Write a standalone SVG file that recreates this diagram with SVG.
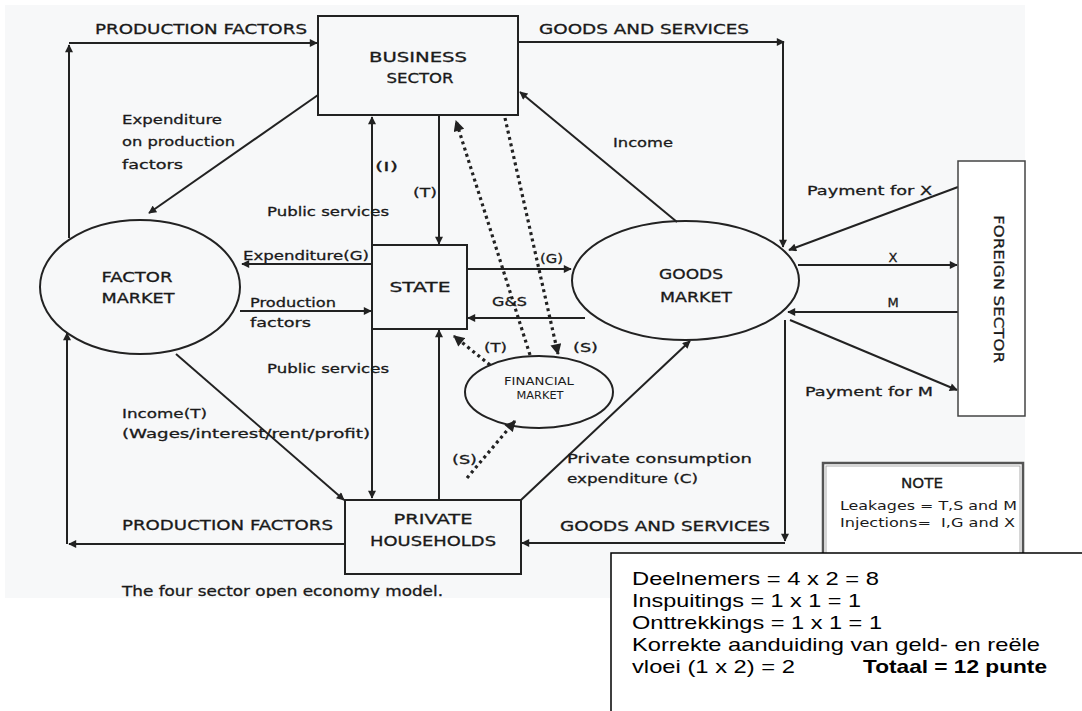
<svg xmlns="http://www.w3.org/2000/svg" width="1082" height="711" viewBox="0 0 1082 711">
<style>
.t{font-family:"DejaVu Sans","Liberation Sans",sans-serif;font-size:13px;fill:#1a1a1a;stroke:#1a1a1a;stroke-width:0.3}
.n{font-family:"DejaVu Sans","Liberation Sans",sans-serif;font-size:14px;fill:#1a1a1a;stroke:#1a1a1a;stroke-width:0.3}
.cap{font-family:"DejaVu Sans","Liberation Sans",sans-serif;font-size:14px;fill:#1a1a1a;stroke:#1a1a1a;stroke-width:0.3}
.sm{font-family:"DejaVu Sans","Liberation Sans",sans-serif;font-size:10px;fill:#1a1a1a}
.nt{font-family:"DejaVu Sans","Liberation Sans",sans-serif;font-size:11.5px;fill:#1a1a1a;white-space:pre}
.box{fill:none;stroke:#222;stroke-width:2}
.c{fill:none;stroke:#222;stroke-width:2;marker-end:url(#a)}
.d{fill:none;stroke:#222;stroke-width:3.2;stroke-dasharray:3 3.5;marker-end:url(#ad)}
.ans{font-family:"Liberation Sans",Arial,sans-serif;font-size:18.5px;fill:#000}
</style>
<defs>
<marker id="a" viewBox="0 0 10 10" refX="9" refY="5" markerWidth="9" markerHeight="8" markerUnits="userSpaceOnUse" orient="auto"><path d="M0,0 L10,5 L0,10 z" fill="#222"/></marker>
<marker id="ad" viewBox="0 0 10 10" refX="9" refY="5" markerWidth="12" markerHeight="11" markerUnits="userSpaceOnUse" orient="auto"><path d="M0,0 L10,5 L0,10 z" fill="#222"/></marker>
<clipPath id="scan"><rect x="0" y="0" width="1082" height="598"/></clipPath>
</defs>
<rect x="0" y="0" width="1082" height="711" fill="#ffffff"/>
<rect x="5" y="5" width="1020" height="593" fill="#f7f8f9"/>

<g id="connectors">
<line class="c" x1="69" y1="238" x2="69" y2="45"/>
<line class="c" x1="69" y1="43" x2="317" y2="43"/>
<line class="c" x1="345" y1="544" x2="69" y2="544"/>
<line class="c" x1="67" y1="544" x2="67" y2="333"/>
<line class="c" x1="518" y1="42" x2="784" y2="42"/>
<line class="c" x1="783" y1="42" x2="783" y2="247"/>
<line class="c" x1="785" y1="320" x2="785" y2="541"/>
<line class="c" x1="785" y1="543" x2="522" y2="543"/>
<line class="c" x1="318" y1="95" x2="149" y2="213"/>
<line class="c" x1="372" y1="245" x2="372" y2="117"/>
<line class="c" x1="439" y1="115" x2="439" y2="244"/>
<line class="c" x1="372" y1="329" x2="372" y2="498"/>
<line class="c" x1="439" y1="500" x2="439" y2="330"/>
<line class="c" x1="372" y1="264" x2="242" y2="264"/>
<line class="c" x1="240" y1="311" x2="371" y2="311"/>
<line class="c" x1="176" y1="354" x2="344" y2="500"/>
<line class="c" x1="467" y1="269" x2="571" y2="269"/>
<line class="c" x1="585" y1="318" x2="468" y2="318"/>
<line class="c" x1="677" y1="222" x2="520" y2="92"/>
<line class="c" x1="521" y1="500" x2="690" y2="341"/>
<line class="c" x1="958" y1="187" x2="789" y2="250"/>
<line class="c" x1="798" y1="265" x2="957" y2="265"/>
<line class="c" x1="958" y1="312" x2="788" y2="312"/>
<line class="c" x1="790" y1="320" x2="957" y2="390"/>
<line class="d" x1="530" y1="355" x2="456" y2="121"/>
<line class="d" x1="505" y1="118" x2="558" y2="354"/>
<line class="d" x1="490" y1="365" x2="454" y2="336"/>
<line class="d" x1="467" y1="478" x2="515" y2="421"/>
</g>

<g id="labels">
<text class="cap" x="95" y="34" textLength="212" lengthAdjust="spacingAndGlyphs">PRODUCTION FACTORS</text>
<text class="cap" x="539" y="34" textLength="210" lengthAdjust="spacingAndGlyphs">GOODS AND SERVICES</text>
<text class="cap" x="122" y="530" textLength="211" lengthAdjust="spacingAndGlyphs">PRODUCTION FACTORS</text>
<text class="cap" x="560" y="531" textLength="210" lengthAdjust="spacingAndGlyphs">GOODS AND SERVICES</text>
<text class="t" x="122" y="124" textLength="100" lengthAdjust="spacingAndGlyphs">Expenditure</text>
<text class="t" x="122" y="146" textLength="113" lengthAdjust="spacingAndGlyphs">on production</text>
<text class="t" x="122" y="169" textLength="61" lengthAdjust="spacingAndGlyphs">factors</text>
<text class="t" x="375" y="171" textLength="23" lengthAdjust="spacingAndGlyphs">(I)</text>
<text class="t" x="413" y="197" textLength="24" lengthAdjust="spacingAndGlyphs">(T)</text>
<text class="t" x="267" y="216" textLength="122" lengthAdjust="spacingAndGlyphs">Public services</text>
<text class="t" x="267" y="373" textLength="122" lengthAdjust="spacingAndGlyphs">Public services</text>
<text class="t" x="243" y="260" textLength="126" lengthAdjust="spacingAndGlyphs">Expenditure(G)</text>
<text class="t" x="250" y="307" textLength="86" lengthAdjust="spacingAndGlyphs">Production</text>
<text class="t" x="250" y="327" textLength="61" lengthAdjust="spacingAndGlyphs">factors</text>
<text class="t" x="540" y="263" textLength="23" lengthAdjust="spacingAndGlyphs">(G)</text>
<text class="t" x="492" y="306" textLength="35" lengthAdjust="spacingAndGlyphs">G&amp;S</text>
<text class="t" x="484" y="352" textLength="23" lengthAdjust="spacingAndGlyphs">(T)</text>
<text class="t" x="573" y="352" textLength="25" lengthAdjust="spacingAndGlyphs">(S)</text>
<text class="t" x="452" y="464" textLength="25" lengthAdjust="spacingAndGlyphs">(S)</text>
<text class="t" x="613" y="147" textLength="60" lengthAdjust="spacingAndGlyphs">Income</text>
<text class="t" x="807" y="195" textLength="125" lengthAdjust="spacingAndGlyphs">Payment for X</text>
<text class="t" x="893" y="262" text-anchor="middle">X</text>
<text class="t" x="893" y="307" text-anchor="middle">M</text>
<text class="t" x="805" y="396" textLength="128" lengthAdjust="spacingAndGlyphs">Payment for M</text>
<text class="t" x="122" y="418" textLength="85" lengthAdjust="spacingAndGlyphs">Income(T)</text>
<text class="t" x="122" y="438" textLength="248" lengthAdjust="spacingAndGlyphs">(Wages/interest/rent/profit)</text>
<text class="t" x="567" y="463" textLength="185" lengthAdjust="spacingAndGlyphs">Private consumption</text>
<text class="t" x="567" y="483" textLength="131" lengthAdjust="spacingAndGlyphs">expenditure (C)</text>
<text class="cap" x="122" y="596" textLength="321" lengthAdjust="spacingAndGlyphs" clip-path="url(#scan)">The four sector open economy model.</text>
</g>

<g id="business-sector">
<rect class="box" x="318" y="16" width="200" height="99" fill="#f7f8f9"/>
<text class="n" x="418" y="62" text-anchor="middle" textLength="98" lengthAdjust="spacingAndGlyphs">BUSINESS</text>
<text class="n" x="420" y="83" text-anchor="middle" textLength="67" lengthAdjust="spacingAndGlyphs">SECTOR</text>
</g>

<g id="factor-market">
<ellipse class="box" cx="140" cy="287" rx="100" ry="67"/>
<text class="n" x="137" y="282" text-anchor="middle" textLength="71" lengthAdjust="spacingAndGlyphs">FACTOR</text>
<text class="n" x="138" y="303" text-anchor="middle" textLength="73" lengthAdjust="spacingAndGlyphs">MARKET</text>
</g>

<g id="state">
<rect class="box" x="372" y="245" width="95" height="84"/>
<text class="n" x="420" y="292" text-anchor="middle" textLength="61" lengthAdjust="spacingAndGlyphs">STATE</text>
</g>

<g id="goods-market">
<ellipse class="box" cx="685.5" cy="280.5" rx="113.5" ry="59.5"/>
<text class="n" x="691" y="279" text-anchor="middle" textLength="64" lengthAdjust="spacingAndGlyphs">GOODS</text>
<text class="n" x="696" y="302" text-anchor="middle" textLength="72" lengthAdjust="spacingAndGlyphs">MARKET</text>
</g>

<g id="financial-market">
<ellipse class="box" cx="539" cy="392" rx="74" ry="36"/>
<text class="sm" x="539" y="385" text-anchor="middle" textLength="70" lengthAdjust="spacingAndGlyphs">FINANCIAL</text>
<text class="sm" x="540" y="399" text-anchor="middle" textLength="47" lengthAdjust="spacingAndGlyphs">MARKET</text>
</g>

<g id="private-households">
<rect class="box" x="345" y="500" width="176" height="74"/>
<text class="n" x="433" y="524" text-anchor="middle" textLength="79" lengthAdjust="spacingAndGlyphs">PRIVATE</text>
<text class="n" x="433" y="546" text-anchor="middle" textLength="126" lengthAdjust="spacingAndGlyphs">HOUSEHOLDS</text>
</g>

<g id="foreign-sector">
<rect x="958" y="161" width="67" height="255" fill="#ffffff" stroke="#444" stroke-width="1.5"/>
<text class="n" transform="translate(994,289) rotate(90)" x="0" y="0" text-anchor="middle" textLength="148" lengthAdjust="spacingAndGlyphs">FOREIGN SECTOR</text>
</g>

<g id="note">
<rect x="823" y="463" width="200" height="95" fill="#ffffff" stroke="#555" stroke-width="2.5"/>
<rect x="826" y="466" width="194" height="89" fill="none" stroke="#999" stroke-width="0.8"/>
<text class="n" x="922" y="488" text-anchor="middle" textLength="42" lengthAdjust="spacingAndGlyphs">NOTE</text>
<text class="nt" x="840" y="510" textLength="177" lengthAdjust="spacingAndGlyphs">Leakages = T,S and M</text>
<text class="nt" x="840" y="527" textLength="175" lengthAdjust="spacingAndGlyphs" xml:space="preserve">Injections=  I,G and X</text>
</g>

<g id="marking-box">
<rect x="611" y="553" width="480" height="170" fill="#ffffff" stroke="#000" stroke-width="1.5"/>
<text class="ans" x="632" y="585" textLength="247" lengthAdjust="spacingAndGlyphs">Deelnemers = 4 x 2 = 8</text>
<text class="ans" x="632" y="607" textLength="229" lengthAdjust="spacingAndGlyphs">Inspuitings = 1 x 1 = 1</text>
<text class="ans" x="632" y="629" textLength="250" lengthAdjust="spacingAndGlyphs">Onttrekkings = 1 x 1 = 1</text>
<text class="ans" x="632" y="651" textLength="408" lengthAdjust="spacingAndGlyphs">Korrekte aanduiding van geld- en reële</text>
<text class="ans" x="632" y="673" textLength="163" lengthAdjust="spacingAndGlyphs">vloei (1 x 2) = 2</text>
<text class="ans" x="863" y="673" font-weight="bold" textLength="184" lengthAdjust="spacingAndGlyphs">Totaal = 12 punte</text>
</g>
</svg>
